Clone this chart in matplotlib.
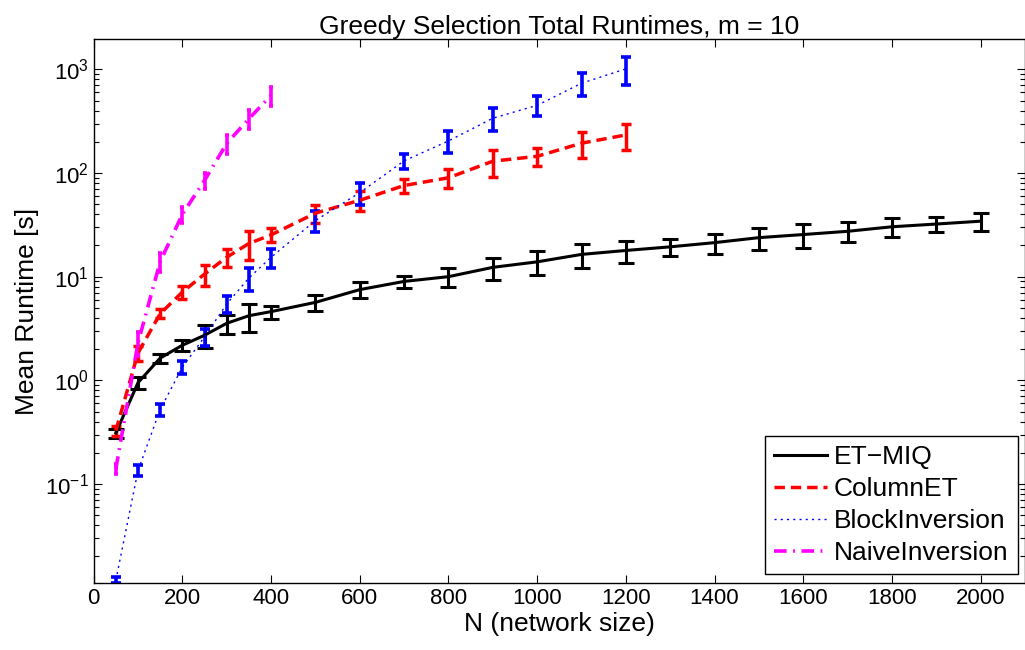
import numpy as np
import matplotlib
matplotlib.use("Agg")
import matplotlib.pyplot as plt
from matplotlib.ticker import LogLocator, NullFormatter

plt.rcParams['font.family'] = ['Liberation Sans', 'DejaVu Sans']
plt.rcParams['mathtext.fontset'] = 'custom'
plt.rcParams['mathtext.rm'] = 'Liberation Sans'
plt.rcParams['mathtext.it'] = 'Liberation Sans:italic'

# network sizes
N_long = [50, 100, 150, 200, 250, 300, 350, 400, 500, 600, 700, 800, 900, 1000,
          1100, 1200, 1300, 1400, 1500, 1600, 1700, 1800, 1900, 2000]
N_mid = [50, 100, 150, 200, 250, 300, 350, 400, 500, 600, 700, 800, 900, 1000, 1100, 1200]
N_short = [50, 100, 150, 200, 250, 300, 350, 400]

# mean runtimes [s] and std
et_mean = [0.31, 0.95, 1.64, 2.18, 2.72, 3.55, 4.2, 4.6, 5.65, 7.5, 9.0, 10.0, 12.3, 13.9,
           16.4, 17.9, 19.4, 21.3, 23.8, 25.5, 27.4, 30.3, 32.2, 34.3]
et_err = [0.03, 0.13, 0.17, 0.25, 0.68, 0.75, 1.3, 0.67, 0.95, 1.3, 1.2, 2.0, 3.0, 3.6,
          4.3, 4.2, 3.5, 4.7, 5.7, 6.7, 6.0, 6.2, 5.5, 6.5]

col_mean = [0.327, 1.84, 4.4, 7.1, 10.6, 15.4, 20.9, 25.3, 41, 54.6, 75.8, 90, 130, 145, 194, 233]
col_err = [0.039, 0.29, 0.45, 1.0, 2.5, 3.1, 6.5, 3.9, 7.7, 12, 11.7, 19, 37.6, 29, 54, 65]

blk_mean = [0.0118, 0.135, 0.523, 1.34, 2.63, 5.46, 9.7, 15.4, 34.8, 64.7, 131, 204, 338, 450, 735, 1012]
blk_err = [0.0008, 0.016, 0.073, 0.18, 0.5, 1.0, 2.5, 3.2, 7.9, 15.3, 22, 48, 86, 98, 186, 302]

nai_mean = [0.14, 2.3, 14, 40, 85, 193, 334, 561]
nai_err = [0.015, 0.6, 3.0, 7, 15, 40, 70, 120]

fig = plt.figure(figsize=(10.25, 6.5), dpi=100)
ax = fig.add_axes([0.0914, 0.1026, 0.9086, 0.8369])

e1 = ax.errorbar(N_long, et_mean, yerr=et_err, color='black', lw=2.2, elinewidth=2.2,
                 capsize=6.1, capthick=2.2, label='ET\u2212MIQ')
e2 = ax.errorbar(N_mid, col_mean, yerr=col_err, color='red', lw=2.5, elinewidth=2.5,
                 capsize=3.6, capthick=2.5, label='ColumnET')
e2[0].set_dashes((3, 1.7))
e3 = ax.errorbar(N_mid, blk_mean, yerr=blk_err, color='blue', lw=1.0, elinewidth=2.6,
                 capsize=3.6, capthick=2.6, label='BlockInversion')
e3[0].set_dashes((1.5, 3))
e4 = ax.errorbar(N_short, nai_mean, yerr=nai_err, color='magenta', lw=2.6, elinewidth=2.6,
                 capsize=1.1, capthick=2.6, label='NaiveInversion')
e4[0].set_dashes((3.5, 1.8, 0.5, 1.8))

ax.set_yscale('log')
ax.set_xlim(0, 2100)
ax.set_ylim(0.011, 1950)
ax.set_xticks(np.arange(0, 2001, 200))
ax.yaxis.set_major_locator(LogLocator(base=10, numticks=10))
ax.yaxis.set_minor_locator(LogLocator(base=10, subs=np.arange(2, 10), numticks=20))
ax.yaxis.set_minor_formatter(NullFormatter())
ax.tick_params(which='both', direction='in', top=True, right=True, labelsize=16)
ax.tick_params(which='major', length=6, width=0.8)
ax.tick_params(which='minor', length=3.5, width=0.8)
for s in ax.spines.values():
    s.set_linewidth(1.0)

ax.set_title('Greedy Selection Total Runtimes, m = 10', fontsize=19, pad=4)
ax.set_xlabel('N (network size)', fontsize=19, labelpad=2)
ax.set_ylabel('Mean Runtime [s]', fontsize=19, labelpad=4)

leg = ax.legend(handles=[e1[0], e2[0], e3[0], e4[0]],
                labels=['ET\u2212MIQ', 'ColumnET', 'BlockInversion', 'NaiveInversion'],
                loc='lower right', bbox_to_anchor=(0.992, 0.0165), borderaxespad=0,
                fontsize=19, fancybox=False, framealpha=1, edgecolor='black',
                handlelength=2.0, handletextpad=0.27, labelspacing=0.3, borderpad=0.35)
leg.get_frame().set_linewidth(1.0)

fig.savefig('out.png', dpi=100)
